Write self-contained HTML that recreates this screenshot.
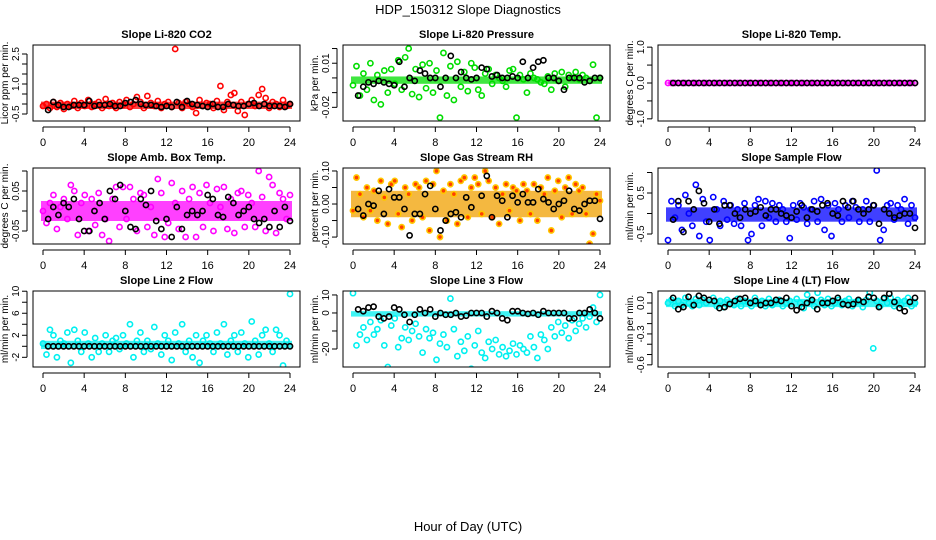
<!DOCTYPE html>
<html><head><meta charset="utf-8"><style>
body{margin:0;background:#fff;}
svg{display:block;font-family:"Liberation Sans",Arial,sans-serif;}
</style></head><body>
<svg id="chart" width="936" height="540" viewBox="0 0 936 540">
<rect width="936" height="540" fill="#fff"/>
<text x="468" y="14" text-anchor="middle" font-size="13">HDP_150312  Slope Diagnostics</text>
<text x="468" y="531" text-anchor="middle" font-size="13">Hour of Day (UTC)</text>
</svg>
<script>
const titles=["Slope Li-820 CO2","Slope Li-820 Pressure","Slope Li-820 Temp.","Slope Amb. Box Temp.","Slope Gas Stream RH","Slope Sample Flow","Slope Line 2 Flow","Slope Line 3 Flow","Slope Line 4 (LT) Flow"];
const yTitles=["Licor ppm per min.","kPa per min.","degrees C per min.","degrees C per min.","percent per min.","ml/min per min.","ml/min per min.","ml/min per min.","ml/min per min."];
const xTicks=[0,4,8,12,16,20,24];
const yTicks=[[-0.5,0,0.5,1,1.5,2,2.5],[-0.02,-0.01,0,0.01,0.02],[-1,-0.5,0,0.5,1],[-0.05,0,0.05,0.1],[-0.1,-0.05,0,0.05,0.1],[-0.5,0,0.5,1],[-2,0,2,4,6,8,10],[-20,-10,0,10],[-0.6,-0.5,-0.4,-0.3,-0.2,-0.1,0,0.1]];
const yLabels=[["-0.5","1.0","2.5"],["-0.02","0.01"],["-1.0","0.0","1.0"],["-0.05","0.05"],["-0.10","0.00","0.10"],["-0.5","0.5"],["-2","2","6","10"],["-20","0","10"],["-0.6","-0.3","0.0"]];
const yLabelVals=[[-0.5,1,2.5],[-0.02,0.01],[-1,0,1],[-0.05,0.05],[-0.1,0,0.1],[-0.5,0.5],[-2,2,6,10],[-20,0,10],[-0.6,-0.3,0]];
const yLims=[[-0.85,2.95],[-0.0293,0.0224],[-1.06,1.06],[-0.0825,0.1075],[-0.121,0.109],[-0.744,1.11],[-3.76,10.04],[-30,12.2],[-0.621,0.1165]];
const bandLo=[-0.25,-0.004,-0.02,-0.025,-0.04,-0.2,-0.5,-2,-0.04];
const bandHi=[0.12,0.001,0.02,0.025,0.04,0.15,1,1,0.04];
const colors=["#ff0000","#00dd00","#ff00ff","#ff00ff","#ffc800","#0000ff","#00f0f0","#00f0f0","#00f0f0"];
const colorVals=[
[-0.1,0.0,-0.2,0.1,-0.15,0.05,-0.25,0.0,-0.1,0.15,-0.2,0.05,-0.1,0.2,-0.15,0.0,0.1,-0.2,0.25,-0.1,0.05,-0.2,0.1,-0.05,0.2,-0.15,0.0,0.35,0.1,-0.2,0.4,0.05,-0.1,0.15,-0.2,0.0,0.1,-0.15,2.75,0.05,-0.2,0.1,0.0,-0.15,-0.45,0.2,-0.1,0.05,0.0,-0.2,0.15,0.9,-0.3,0.1,0.45,0.55,-0.35,0.1,-0.55,0.0,0.2,-0.1,0.45,0.75,0.3,-0.2,0.1,0.0,-0.15,0.2,-0.1,0.0],
[-0.005,0.008,-0.012,0.003,-0.008,0.01,-0.015,0.002,-0.018,0.005,-0.01,0.006,-0.004,0.012,-0.008,0.014,0.02,-0.011,0.006,-0.013,0.009,-0.007,0.01,-0.01,0.005,-0.027,0.017,-0.012,0.008,-0.015,0.011,-0.006,0.004,-0.009,0.01,0.007,-0.008,-0.012,0.003,0.006,-0.004,0.002,0.0,-0.002,-0.006,0.005,0.006,-0.027,0.002,-0.001,-0.01,0.003,0.0,-0.001,-0.003,-0.004,0.001,-0.008,0.003,-0.002,0.004,-0.006,0.002,0.0,0.004,-0.001,0.002,0.0,-0.002,0.009,-0.027,0.0],
[0,0,0,0,0,0,0,0,0,0,0,0,0,0,0,0,0,0,0,0,0,0,0,0,0,0,0,0,0,0,0,0,0,0,0,0,0,0,0,0,0,0,0,0,0,0,0,0,0,0,0,0,0,0,0,0,0,0,0,0,0,0,0,0,0,0,0,0,0,0,0,0],
[0.0,-0.03,0.02,0.04,-0.045,0.01,0.03,-0.02,0.065,0.05,-0.06,0.02,0.04,-0.05,0.03,-0.035,0.045,-0.06,-0.02,-0.075,0.03,0.06,-0.04,0.06,-0.02,0.06,0.03,-0.05,0.045,0.04,-0.04,0.01,-0.06,0.08,0.045,-0.065,-0.03,0.07,0.02,-0.045,0.05,-0.065,0.03,0.06,-0.065,0.045,-0.04,0.065,0.02,-0.05,0.055,0.01,0.06,-0.045,0.03,-0.055,0.045,0.05,-0.04,0.04,0.02,-0.04,0.1,0.035,-0.05,0.085,0.065,-0.055,0.045,0.03,-0.02,0.04],
[-0.02,0.08,0.03,-0.04,0.05,-0.02,0.04,-0.05,0.07,0.02,-0.06,0.06,0.07,-0.03,-0.07,0.05,0.03,-0.05,0.06,0.05,-0.04,0.07,-0.08,0.06,0.1,-0.1,0.04,-0.05,0.06,0.03,-0.06,0.07,0.08,-0.04,0.05,0.08,0.06,-0.03,0.1,0.07,-0.04,0.05,-0.06,0.03,0.06,-0.02,0.05,0.04,-0.05,0.06,0.04,-0.03,0.06,-0.05,0.05,0.03,0.08,-0.08,0.04,0.07,-0.04,0.05,0.08,-0.03,0.06,0.04,0.05,-0.03,-0.12,-0.09,0.03,0.01],
[-0.65,0.3,-0.1,0.2,-0.4,0.45,0.0,-0.3,0.7,-0.55,0.35,-0.2,-0.65,0.4,0.1,-0.3,0.3,-0.15,0.2,-0.25,0.1,-0.3,0.25,-0.65,-0.5,0.2,0.35,-0.3,0.3,-0.1,0.25,-0.2,0.2,0.1,-0.2,-0.6,0.2,-0.15,0.25,0.15,-0.25,0.1,0.3,-0.2,0.35,-0.4,0.2,-0.55,0.25,0.1,-0.2,0.2,-0.1,0.3,0.15,-0.2,0.1,0.3,-0.2,0.2,1.05,-0.65,-0.4,0.2,0.25,-0.15,0.2,0.1,0.35,-0.25,0.2,-0.1],
[0.5,-1.5,3,2,-2,1,0.5,2.5,-3,3,1,-1,2.5,0.5,-2,1.5,-1,0.5,2,-1,1,1.5,-0.5,2,0.5,4,-2,1,2.5,-1,1,-0.5,3.5,0.5,-1.5,2,1,-2.5,2.5,0.5,4,-1,1,-2,2,-3,1,2,0.5,-1,2.5,0.5,4,-1.5,1,2,-1,2.5,0.5,-2,4.5,1,-1.5,2,3,0.5,-1,3,2,-3.5,1,9.5],
[11,-18,-12,-8,-15,-5,-12,-9,-4,-18,-30,-7,-3,-19,-14,-8,-15,-10,-6,-13,-22,-9,-14,-11,-26,-17,-12,-19,8,-9,-24,-16,-21,-13,-31,-18,-10,-22,-25,-16,-20,-15,-23,-19,-24,-21,-17,-23,-18,-20,-22,-13,-19,-25,-12,-15,-20,-8,-13,-5,-11,-7,-14,-4,-10,-6,-3,-8,-2,3,-5,10],
[0.0,0.03,-0.03,0.02,-0.02,0.05,0.0,-0.03,0.04,-0.02,0.03,0.0,-0.66,0.05,-0.03,0.02,-0.04,0.03,0.0,-0.02,0.04,-0.03,0.02,0.01,-0.03,0.05,0.0,0.02,-0.03,0.04,-0.02,0.01,0.03,-0.03,0.0,0.02,-0.69,0.04,0.0,-0.05,0.08,0.02,-0.03,0.1,0.03,-0.02,0.04,-0.03,0.0,0.03,-0.02,0.02,0.04,-0.03,0.01,0.02,-0.04,0.03,0.1,-0.44,0.02,-0.03,0.04,0.0,0.05,-0.03,0.03,-0.02,0.02,0.05,-0.03,0.0]];
const blackVals=[
[-0.3,0.1,-0.05,-0.15,-0.15,-0.05,-0.05,-0.05,0.15,-0.1,-0.05,-0.05,0.0,-0.1,-0.1,0.05,0.1,0.2,0.0,-0.05,-0.05,-0.1,-0.15,-0.1,-0.15,0.1,-0.15,0.15,0.0,-0.05,-0.1,-0.15,0.0,-0.15,-0.15,0.0,-0.05,-0.1,-0.1,0.0,0.05,-0.1,0.0,-0.1,-0.1,-0.1,-0.15,0.0],
[-0.012,-0.006,-0.003,-0.004,-0.002,-0.003,-0.004,-0.005,0.011,-0.006,0.0,-0.002,0.005,0.003,0.0,0.0,-0.006,0.0,0.015,0.0,0.004,0.0,-0.001,0.0,0.007,0.006,0.001,0.002,0.0,0.0,0.001,0.0,0.011,0.0,0.007,0.011,0.012,0.0,0.0,-0.002,-0.008,0.0,0.0,0.0,-0.003,-0.002,0.0,0.0],
[0,0,0,0,0,0,0,0,0,0,0,0,0,0,0,0,0,0,0,0,0,0,0,0,0,0,0,0,0,0,0,0,0,0,0,0,0,0,0,0,0,0,0,0,0,0,0,0],
[-0.02,0.01,-0.01,0.02,0.01,0.03,-0.02,-0.05,-0.05,0.0,0.02,-0.02,0.05,0.03,0.065,0.0,-0.04,-0.045,0.03,0.015,0.05,-0.025,-0.045,-0.02,-0.065,0.01,-0.045,-0.01,0.0,-0.01,0.0,0.04,0.03,-0.01,-0.015,0.035,0.02,-0.01,0.0,0.01,-0.02,-0.03,-0.02,-0.04,0.0,-0.04,0.01,-0.025],
[-0.015,-0.035,0.0,-0.005,0.04,-0.03,0.045,0.02,0.02,-0.015,-0.095,-0.03,-0.03,0.03,0.055,-0.015,-0.08,-0.05,-0.03,-0.025,-0.04,0.02,-0.01,-0.135,0.025,0.085,-0.04,0.025,0.01,-0.04,0.025,0.005,0.03,0.005,0.005,0.045,0.015,0.005,-0.015,0.0,0.01,0.04,-0.015,-0.02,0.0,0.01,0.01,-0.045],
[-0.15,0.3,-0.45,0.3,0.1,0.55,0.25,-0.2,0.1,-0.25,0.2,0.2,0.0,-0.1,0.1,0.0,0.05,0.15,-0.05,0.1,0.1,0.0,-0.05,-0.1,0.05,0.2,-0.1,0.1,0.05,0.2,0.25,0.0,-0.05,0.3,0.15,0.3,0.1,0.0,0.1,0.2,-0.25,0.1,0.0,-0.1,-0.05,0.0,0.0,-0.35],
[0,0,0,0,0,0,0,0,0,0,0,0,0,0,0,0,0,0,0,0,0,0,0,0,0,0,0,0,0,0,0,0,0,0,0,0,0,0,0,0,0,0,0,0,0,0,0,0],
[2,1,3,3.5,-2,-3,-2,3,2,-1,-5,-1,2,0,2,-2,0,-1,-1,0,-2,-1.5,0,0,0,-2,1,0,-3,-4,1,1,0,-0.5,0,-1,1,0,0,0,0,-3,-3,0,0,2,0,-3],
[0.05,-0.06,-0.04,0.06,-0.02,0.07,0.05,0.03,0.02,-0.05,-0.04,-0.01,0.02,0.04,0.05,0.0,0.02,-0.02,0.0,0.0,0.03,0.02,0.05,-0.03,-0.07,-0.04,0.0,0.03,-0.06,0.0,0.0,0.02,0.05,-0.01,-0.02,-0.01,0.03,0.01,0.06,0.05,-0.04,0.05,0.09,0.01,-0.05,-0.08,0.01,0.05]];

const NS="http://www.w3.org/2000/svg";
const svg=document.getElementById('chart');
function mk(tag,attrs,parent){const e=document.createElementNS(NS,tag);for(const k in attrs)e.setAttribute(k,attrs[k]);(parent||svg).appendChild(e);return e;}
const colLeft=[33,343,658], rowTop=[45,168,291], W=267, H=76;
for(let p=0;p<9;p++){
  const L=colLeft[p%3], T=rowTop[Math.floor(p/3)];
  const g=mk('g',{});
  
  
  const xs=h=>L+10+h*(247/24);
  const [y0,y1]=yLims[p];
  const ys=v=>T+H-(v-y0)/(y1-y0)*H;
  const cp=mk('clipPath',{id:'clip'+p},g); mk('rect',{x:L,y:T,width:W,height:H},cp);
  const cg=mk('g',{'clip-path':'url(#clip'+p+')'},g);
  const band=mk('rect',{x:xs(0)-2,y:ys(bandHi[p]),width:xs(24)-xs(0)+4,height:ys(bandLo[p])-ys(bandHi[p]),fill:p==4?'#f0a000':colors[p],opacity:0.75},cg);
  
  
  colorVals[p].forEach((v,i)=>{
    const c=mk('circle',{cx:xs(i*24/(colorVals[p].length-1)),cy:ys(v),r:2.6,fill:p==4?'#ff4000':'none',stroke:colors[p],'stroke-width':1.6},cg);
    
    
  });
  blackVals[p].forEach((v,i)=>{
    const c=mk('circle',{cx:xs(0.5+i*0.5),cy:ys(v),r:2.6,fill:'none',stroke:'#000','stroke-width':1.6},cg);
    
    
  });
  const box=mk('rect',{x:L,y:T,width:W,height:H,fill:'none',stroke:'#000','stroke-width':1},g);
  
  
  const t=mk('text',{x:L+W/2,y:T-7,'text-anchor':'middle','font-size':11,'font-weight':'bold'},g);
  t.textContent=titles[p];
  
  
  mk('line',{x1:xs(0),x2:xs(24),y1:T+H+6,y2:T+H+6,stroke:'#000'},g);
  xTicks.forEach(h=>{
    mk('line',{x1:xs(h),x2:xs(h),y1:T+H+6,y2:T+H+11,stroke:'#000'},g);
    const tl=mk('text',{x:xs(h),y:T+H+25,'text-anchor':'middle','font-size':11},g);
    tl.textContent=h;
    
    
  });
  const yt=yTicks[p];
  mk('line',{x1:L-6,x2:L-6,y1:ys(yt[0]),y2:ys(yt[yt.length-1]),stroke:'#000'},g);
  yt.forEach(v=>mk('line',{x1:L-11,x2:L-6,y1:ys(v),y2:ys(v),stroke:'#000'},g));
  yLabelVals[p].forEach((v,i)=>{
    const yy=ys(v);
    const tl=mk('text',{x:L-14,y:yy,'text-anchor':'middle','font-size':10,transform:`rotate(-90 ${L-14} ${yy})`},g);
    tl.textContent=yLabels[p][i];
    
    
  });
  const yl=mk('text',{x:L-25,y:T+H/2,'text-anchor':'middle','font-size':10,transform:`rotate(-90 ${L-25} ${T+H/2})`},g);
  yl.textContent=yTitles[p];
  
  
}
</script>
</body></html>
